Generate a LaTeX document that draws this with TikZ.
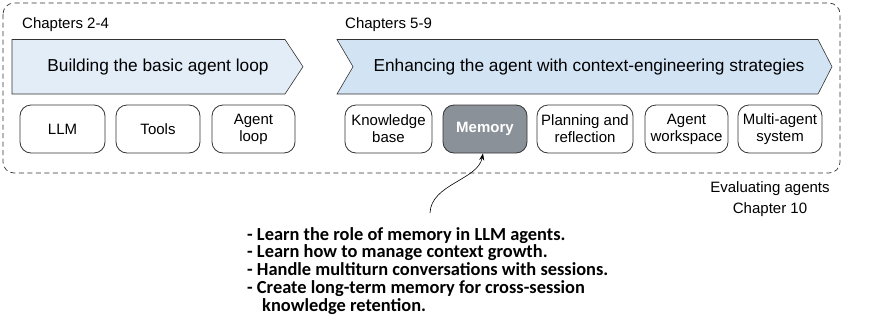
\documentclass[tikz,border=0pt]{standalone}
\usepackage{fontspec}
\setmainfont{Liberation Sans}
\newfontfamily\bulletfont{Carlito}
\usetikzlibrary{arrows.meta}
\definecolor{bandA}{HTML}{E2EDF8}
\definecolor{bandB}{HTML}{D2E3F3}
\definecolor{memfill}{HTML}{8A9198}
\definecolor{edge}{HTML}{333333}
\tikzset{
  chapbox/.style={draw=edge, line width=0.8pt, rounded corners=11pt, minimum width=#1, minimum height=48pt, align=center, font=\fontsize{15}{17}\selectfont, inner sep=1pt},
  chapbox/.default=84pt,
  band/.style={draw=edge, line width=0.6pt},
  lbl/.style={font=\fontsize{15}{17}\selectfont, inner sep=0pt},
  bandtext/.style={font=\fontsize{17.3}{19}\selectfont},
}
\begin{document}
\begin{tikzpicture}[x=1pt,y=-1pt]
\useasboundingbox (0,0) rectangle (891,327);
% outer dashed frame
\draw[edge, line width=0.7pt, dash pattern=on 5pt off 3.5pt, rounded corners=11pt] (3,3) rectangle (840,173);
% headers
\node[lbl, anchor=west] (h1) at (22,25) {Chapters 2-4};
\node[lbl, anchor=west] (h2) at (345,25) {Chapters 5-9};
% bands
\draw[band, fill=bandA] (12,39.5) -- (285,39.5) -- (303,66.7) -- (285,94) -- (12,94) -- cycle;
\node[bandtext] (b1) at (158,66.7) {Building the basic agent loop};
\draw[band, fill=bandB] (337,39.5) -- (818,39.5) -- (832,66.7) -- (818,94) -- (337,94) -- (353,66.7) -- cycle;
\node[bandtext] (b2) at (589,66.7) {Enhancing the agent with context-engineering strategies};
% boxes
\node[chapbox=85pt] (llm) at (62.5,129) {LLM};
\node[chapbox=84pt] (tools) at (158,129) {Tools};
\node[chapbox=83pt] (loop) at (253.5,129) {Agent\\loop};
\node[chapbox=87pt] (kb) at (388.5,129) {Knowledge\\base};
\node[chapbox=84pt, fill=memfill, text=white, font=\fontsize{15}{17}\selectfont\bfseries] (mem) at (485,129) {Memory};
\node[chapbox=96pt] (plan) at (585,129) {Planning and\\reflection};
\node[chapbox=83pt] (ws) at (686.5,129) {Agent\\workspace};
\node[chapbox=84pt] (multi) at (780,129) {Multi-agent\\system};
% evaluating
\node[lbl, align=center, font=\fontsize{15}{21}\selectfont] (eval) at (770,199.5) {Evaluating agents\\Chapter 10};
% callout
\node[anchor=base west, align=left, inner sep=0pt, font=\bulletfont\bfseries\fontsize{18.4}{17.8}\selectfont] (notes) at (247,311.2) {- Learn the role of memory in LLM agents.\\
- Learn how to manage context growth.\\
- Handle multiturn conversations with sessions.\\
- Create long-term memory for cross-session\\
\hspace*{15pt}knowledge retention.};
\coordinate (cs) at (430,213);
\draw[-{Stealth[length=7pt,width=5pt]}, line width=0.6pt] (cs) .. controls (431,184) and (478,180) .. ([xshift=-2pt]mem.south);
\end{tikzpicture}
\end{document}
